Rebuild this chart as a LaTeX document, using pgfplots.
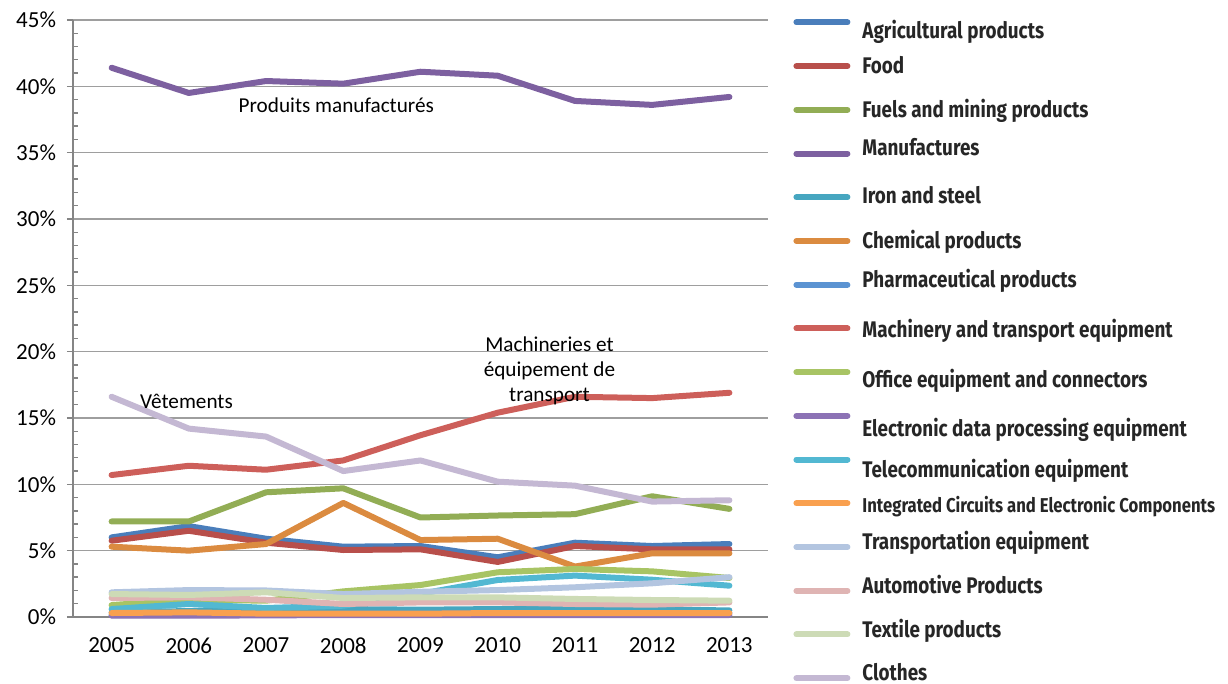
\documentclass[border=0pt]{standalone}
\usepackage{pgfplots}
\pgfplotsset{compat=1.18}
\usepackage{fontspec}
\setmainfont{Carlito}
\newfontfamily\legfont[FakeStretch=0.835]{Fira Sans}
\definecolor{cAgri}{HTML}{4A7EBB}
\definecolor{cFood}{HTML}{B84F4B}
\definecolor{cFuel}{HTML}{92AD55}
\definecolor{cManu}{HTML}{7D60A0}
\definecolor{cIron}{HTML}{46A6C0}
\definecolor{cChem}{HTML}{DB8B40}
\definecolor{cPhar}{HTML}{5B93D2}
\definecolor{cMach}{HTML}{CD5F5A}
\definecolor{cOffi}{HTML}{A8C464}
\definecolor{cEDP}{HTML}{8C72B5}
\definecolor{cTele}{HTML}{52B8D2}
\definecolor{cIC}{HTML}{F9A04F}
\definecolor{cTran}{HTML}{B3C5E0}
\definecolor{cAuto}{HTML}{DFB4B3}
\definecolor{cText}{HTML}{CDDBB6}
\definecolor{cClot}{HTML}{C4B8D3}
\definecolor{legtxt}{HTML}{262626}
\newcommand{\legent}[2]{\raisebox{-#1bp}[0pt][0pt]{#2}}
\begin{document}
\begin{tikzpicture}
\useasboundingbox (0,0) rectangle (614bp,342bp);
\begin{axis}[
  scale only axis,
  width=347.5bp, height=298.5bp,
  at={(36.5bp,33.5bp)}, anchor=south west,
  xmin=2004.5, xmax=2013.5, ymin=0, ymax=45,
  axis x line*=bottom, axis y line*=left,
  axis line style={draw=black!48, line width=0.9bp},
  xtick={2005,...,2013},
  xticklabels={2005,2006,2007,2008,2009,2010,2011,2012,2013},
  extra x ticks={2004.5,2005.5,...,2013.5},
  extra x tick labels={},
  extra x tick style={major tick length=3bp, tick style={draw=black!48, line width=0.9bp}, grid=none},
  major x tick style={draw=none},
  ytick={0,5,...,45},
  yticklabels={0\%,5\%,10\%,15\%,20\%,25\%,30\%,35\%,40\%,45\%},
  minor y tick num=4,
  tick align=outside,
  major tick length=3bp,
  minor tick length=-2.5bp,
  tick style={draw=black!48, line width=0.7bp},
  ymajorgrids,
  major grid style={draw=black!38, line width=0.8bp},
  ticklabel style={font=\fontsize{11.5bp}{13bp}\selectfont, text=black},
  xtick pos=bottom, ytick pos=left,
  yticklabel style={xshift=-2bp},
  xticklabel style={yshift=-4bp},
  every axis plot/.append style={line width=3bp, line join=round, line cap=round, mark=none},
  legend image code/.code={\draw[line width=3bp,line cap=round] (0bp,0bp) -- (25.5bp,0bp);},
  legend style={at={(rel axis cs:1.036,1.0333)}, anchor=north west, draw=none, fill=none,
     inner sep=0pt, row sep=0pt, column sep=6bp,
     font=\legfont\bfseries\fontsize{11.3bp}{13bp}\selectfont, text=legtxt,
     nodes={inner sep=0pt, anchor=west, text height=10.93bp, text depth=10.93bp}},
  legend cell align=left,
  clip=false,
]
\addplot[cAgri] coordinates {(2005,6.0)(2006,6.85)(2007,5.9)(2008,5.3)(2009,5.35)(2010,4.5)(2011,5.6)(2012,5.35)(2013,5.5)};
\addlegendentry{\legent{7.85}{Agricultural products}}
\addplot[cFood] coordinates {(2005,5.75)(2006,6.5)(2007,5.6)(2008,5.05)(2009,5.1)(2010,4.15)(2011,5.35)(2012,5.1)(2013,5.1)};
\addlegendentry{\legent{3.7}{Food}}
\addplot[cFuel] coordinates {(2005,7.2)(2006,7.2)(2007,9.4)(2008,9.7)(2009,7.5)(2010,7.65)(2011,7.75)(2012,9.1)(2013,8.15)};
\addlegendentry{\legent{3.9}{Fuels and mining products}}
\addplot[cManu] coordinates {(2005,41.4)(2006,39.5)(2007,40.4)(2008,40.2)(2009,41.1)(2010,40.8)(2011,38.9)(2012,38.6)(2013,39.2)};
\addlegendentry{\legent{0.8}{Manufactures}}
\addplot[cIron] coordinates {(2005,0.35)(2006,0.45)(2007,0.5)(2008,0.6)(2009,0.55)(2010,0.6)(2011,0.6)(2012,0.55)(2013,0.5)};
\addlegendentry{\legent{3}{Iron and steel}}
\addplot[cChem] coordinates {(2005,5.3)(2006,5.0)(2007,5.5)(2008,8.6)(2009,5.8)(2010,5.9)(2011,3.8)(2012,4.8)(2013,4.8)};
\addlegendentry{\legent{4}{Chemical products}}
\addplot[cPhar] coordinates {(2005,0.15)(2006,0.15)(2007,0.2)(2008,0.25)(2009,0.25)(2010,0.3)(2011,0.3)(2012,0.3)(2013,0.3)};
\addlegendentry{\legent{1.5}{Pharmaceutical products}}
\addplot[cMach] coordinates {(2005,10.7)(2006,11.4)(2007,11.1)(2008,11.8)(2009,13.7)(2010,15.4)(2011,16.6)(2012,16.5)(2013,16.9)};
\addlegendentry{\legent{4.5}{Machinery and transport equipment}}
\addplot[cOffi] coordinates {(2005,0.9)(2006,1.3)(2007,1.23)(2008,1.93)(2009,2.41)(2010,3.37)(2011,3.62)(2012,3.44)(2013,2.94)};
\addlegendentry{\legent{7.5}{Office equipment and connectors}}
\addplot[cEDP] coordinates {(2005,0.1)(2006,0.1)(2007,0.12)(2008,0.15)(2009,0.15)(2010,0.15)(2011,0.15)(2012,0.15)(2013,0.15)};
\addlegendentry{\legent{10.5}{Electronic data processing equipment}}
\addplot[cTele] coordinates {(2005,0.6)(2006,0.98)(2007,0.68)(2008,0.85)(2009,1.75)(2010,2.79)(2011,3.12)(2012,2.81)(2013,2.36)};
\addlegendentry{\legent{9}{Telecommunication equipment}}
\addplot[cIC] coordinates {(2005,0.3)(2006,0.35)(2007,0.25)(2008,0.25)(2009,0.25)(2010,0.3)(2011,0.3)(2012,0.3)(2013,0.3)};
\addlegendentry{\legent{4.5}{\fontsize{10.0bp}{12bp}\selectfont Integrated Circuits and Electronic Components}}
\addplot[cTran] coordinates {(2005,1.86)(2006,2.03)(2007,2.0)(2008,1.73)(2009,1.9)(2010,2.03)(2011,2.24)(2012,2.54)(2013,3.0)};
\addlegendentry{\legent{1}{Transportation equipment}}
\addplot[cAuto] coordinates {(2005,1.43)(2006,1.48)(2007,1.3)(2008,0.98)(2009,1.1)(2010,1.1)(2011,0.98)(2012,0.93)(2013,1.1)};
\addlegendentry{\legent{1.25}{Automotive Products}}
\addplot[cText] coordinates {(2005,1.73)(2006,1.66)(2007,1.86)(2008,1.43)(2009,1.48)(2010,1.48)(2011,1.36)(2012,1.28)(2013,1.23)};
\addlegendentry{\legent{1.5}{Textile products}}
\addplot[cClot] coordinates {(2005,16.6)(2006,14.2)(2007,13.6)(2008,11.0)(2009,11.8)(2010,10.2)(2011,9.9)(2012,8.7)(2013,8.8)};
\addlegendentry{\legent{1.3}{Clothes}}
\node[font=\fontsize{10.6bp}{12.5bp}\selectfont] at (axis cs:2007.91,38.57) {Produits manufacturés};
\node[font=\fontsize{10.6bp}{12.5bp}\selectfont] at (axis cs:2005.97,16.27) {Vêtements};
\node[font=\fontsize{10.6bp}{12.5bp}\selectfont, align=center] at (axis cs:2010.67,18.53) {Machineries et\\équipement de\\transport};
\end{axis}
\end{tikzpicture}
\end{document}
